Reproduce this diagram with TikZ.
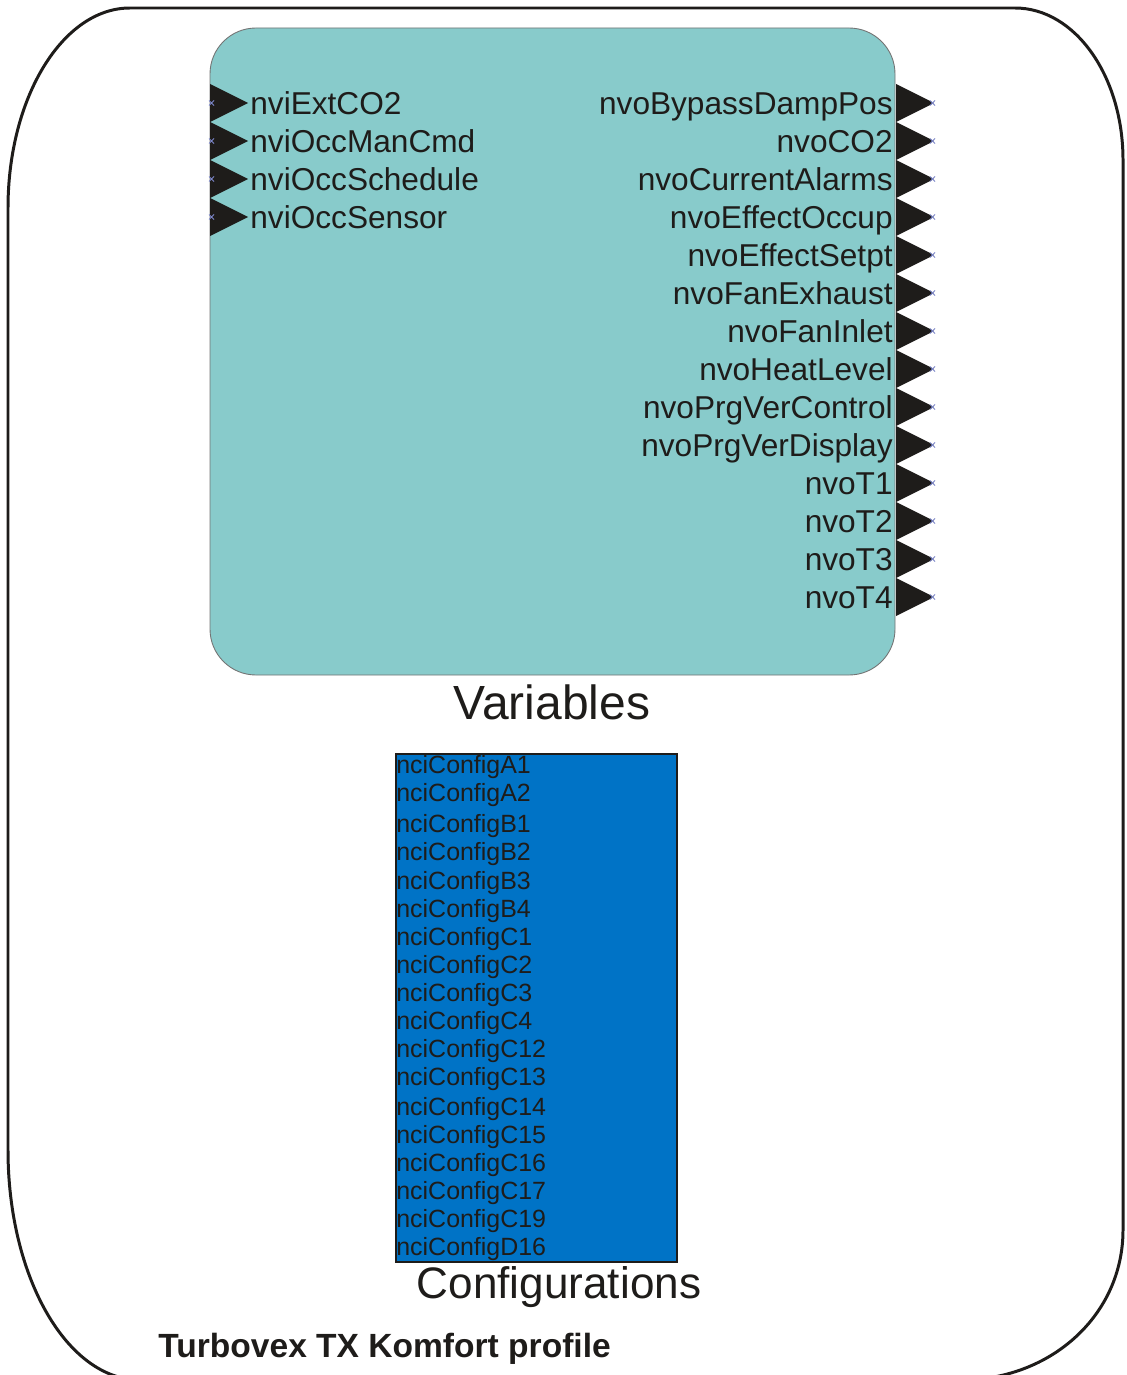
\documentclass[tikz,border=0pt]{standalone}
\usepackage{fontspec}
\setmainfont{Liberation Sans}
\definecolor{varfill}{HTML}{88CBCB}
\definecolor{cfgfill}{HTML}{0073C6}
\definecolor{inkdark}{HTML}{1E1C1A}
\definecolor{pinmark}{HTML}{7C86C8}
\tikzset{
  pinlbl/.style={inner sep=0pt, text=inkdark, font=\fontsize{18}{21}\selectfont},
  cfglbl/.style={inner sep=0pt, anchor=base west, text=inkdark, font=\fontsize{14.2}{16}\selectfont},
  titlelbl/.style={inner sep=0pt, anchor=base, text=inkdark, font=\fontsize{25.1}{28}\selectfont},
  pinfill/.style={fill=inkdark},
  pinmk/.style={draw=pinmark, line width=0.5pt},
}
\begin{document}
\begin{tikzpicture}[x=0.02cm, y=-0.02cm]
	\useasboundingbox (0,0) rectangle (1126,1375);
	\clip (0,0) rectangle (1126,1375);
	% outline
	\draw[inkdark, line width=1.7pt] (130,8) -- (1015,8)
		.. controls (1075,8) and (1123,76) .. (1123,160) -- (1123,1230)
		.. controls (1123,1315) and (1051,1380) .. (961,1380) -- (140,1380)
		.. controls (67,1380) and (8,1277) .. (8,1150) -- (8,208)
		.. controls (8,97) and (63,8) .. (130,8) -- cycle;
	% variables block
	\draw[fill=varfill, draw=black!55, line width=0.5pt, rounded corners=0.92cm] (210,28) rectangle (895,675);
	\foreach \y in {103,141,179,217} {
		\fill[pinfill] (210,\y-19) -- (248,\y) -- (210,\y+19) -- cycle;
		\draw[pinmk] (209,\y-2.5) -- (214,\y+2.5) (209,\y+2.5) -- (214,\y-2.5);
	}
	\foreach \y in {103,141,179,217,255,293,331,369,407,445,483,521,559,597} {
		\fill[pinfill] (896,\y-19) -- (934,\y) -- (896,\y+19) -- cycle;
		\draw[pinmk] (930,\y-2.5) -- (935,\y+2.5) (930,\y+2.5) -- (935,\y-2.5);
	}
	\node[pinlbl, anchor=base west] (in1) at (250,114.5) {nviExtCO2};
	\node[pinlbl, anchor=base west] (in2) at (250,152.5) {nviOccManCmd};
	\node[pinlbl, anchor=base west] (in3) at (250,190.5) {nviOccSchedule};
	\node[pinlbl, anchor=base west] (in4) at (250,228.5) {nviOccSensor};
	\node[pinlbl, anchor=base east] (out1) at (893,114.5) {nvoBypassDampPos};
	\node[pinlbl, anchor=base east] (out2) at (893,152.5) {nvoCO2};
	\node[pinlbl, anchor=base east] (out3) at (893,190.5) {nvoCurrentAlarms};
	\node[pinlbl, anchor=base east] (out4) at (893,228.5) {nvoEffectOccup};
	\node[pinlbl, anchor=base east] (out5) at (893,266.5) {nvoEffectSetpt};
	\node[pinlbl, anchor=base east] (out6) at (893,304.5) {nvoFanExhaust};
	\node[pinlbl, anchor=base east] (out7) at (893,342.5) {nvoFanInlet};
	\node[pinlbl, anchor=base east] (out8) at (893,380.5) {nvoHeatLevel};
	\node[pinlbl, anchor=base east] (out9) at (893,418.5) {nvoPrgVerControl};
	\node[pinlbl, anchor=base east] (out10) at (893,456.5) {nvoPrgVerDisplay};
	\node[pinlbl, anchor=base east] (out11) at (893,494.5) {nvoT1};
	\node[pinlbl, anchor=base east] (out12) at (893,532.5) {nvoT2};
	\node[pinlbl, anchor=base east] (out13) at (893,570.5) {nvoT3};
	\node[pinlbl, anchor=base east] (out14) at (893,608.5) {nvoT4};
	\node[titlelbl, font=\fontsize{27.3}{30}\selectfont] (vartitle) at (552,719) {Variables};
	% configurations block
	\draw[fill=cfgfill, draw=inkdark, line width=0.6pt] (396,754) rectangle (677,1262);
	\node[cfglbl] (c1) at (396,773.5) {nciConfigA1};
	\node[cfglbl] (c2) at (396,801.5) {nciConfigA2};
	\node[cfglbl] (c3) at (396,832.5) {nciConfigB1};
	\node[cfglbl] (c4) at (396,860.5) {nciConfigB2};
	\node[cfglbl] (c5) at (396,889.5) {nciConfigB3};
	\node[cfglbl] (c6) at (396,917.5) {nciConfigB4};
	\node[cfglbl] (c7) at (396,945.5) {nciConfigC1};
	\node[cfglbl] (c8) at (396,973.5) {nciConfigC2};
	\node[cfglbl] (c9) at (396,1001.5) {nciConfigC3};
	\node[cfglbl] (c10) at (396,1029.5) {nciConfigC4};
	\node[cfglbl] (c11) at (396,1057.5) {nciConfigC12};
	\node[cfglbl] (c12) at (396,1085.5) {nciConfigC13};
	\node[cfglbl] (c13) at (396,1115.5) {nciConfigC14};
	\node[cfglbl] (c14) at (396,1143.5) {nciConfigC15};
	\node[cfglbl] (c15) at (396,1171.5) {nciConfigC16};
	\node[cfglbl] (c16) at (396,1199.5) {nciConfigC17};
	\node[cfglbl] (c17) at (396,1227.5) {nciConfigC19};
	\node[cfglbl] (c18) at (396,1255.5) {nciConfigD16};
	\node[titlelbl] (cfgtitle) at (559,1298) {Configurations};
	\node[inner sep=0pt, anchor=base west, text=inkdark, font=\bfseries\fontsize{19.1}{22}\selectfont] (profile) at (158,1357) {Turbovex TX Komfort profile};
\end{tikzpicture}
\end{document}
